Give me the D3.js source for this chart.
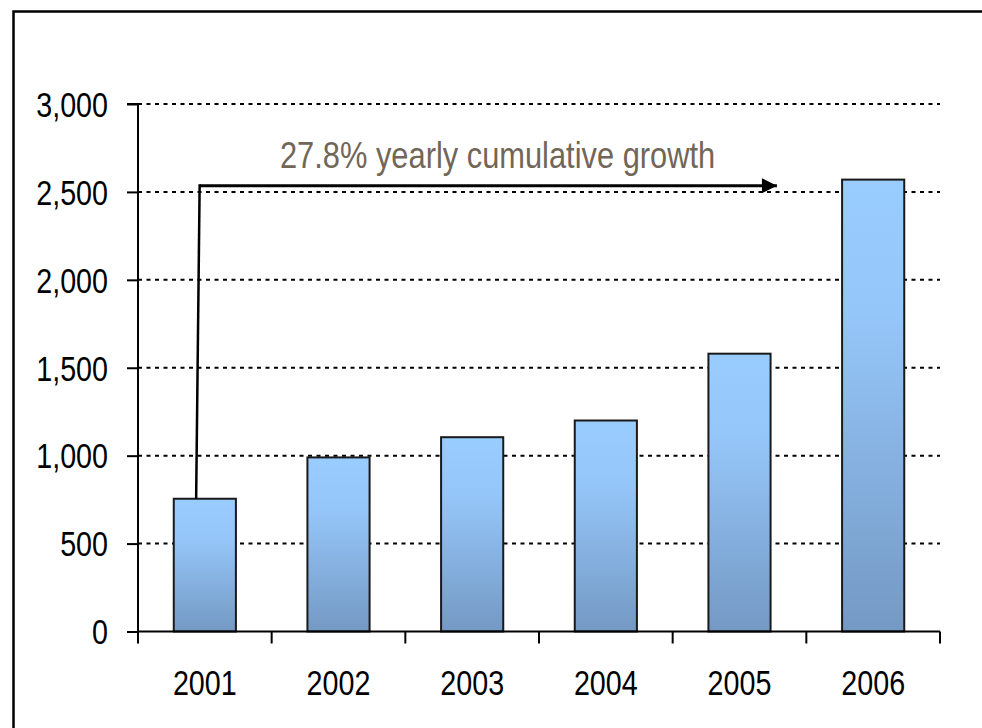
<!DOCTYPE html>
<html><head><meta charset="utf-8">
<script src="https://cdn.jsdelivr.net/npm/d3@7"></script>
<style>html,body{margin:0;padding:0;background:#fff;overflow:hidden}</style>
</head><body>
<svg id="chart" width="982" height="728"></svg>
<script>
// ---- data ----
const years = ["2001","2002","2003","2004","2005","2006"];
const values = [755, 990, 1105, 1200, 1580, 2570];
const yTicks = [0, 500, 1000, 1500, 2000, 2500, 3000];
const annotationText = "27.8% yearly cumulative growth";
const annotationLevel = 2535;

// font detection
function fontAvailable(name){
  const c = document.createElement("canvas").getContext("2d");
  const s = "27.8% yearly cumulative growth 2001";
  c.font = "36px monospace"; const a = c.measureText(s).width;
  c.font = "36px '" + name + "', monospace"; const b = c.measureText(s).width;
  return Math.abs(a-b) > 0.5;
}
const narrow = fontAvailable("Liberation Sans Narrow");
const fam = narrow ? "'Liberation Sans Narrow'" : "'Liberation Sans', Arial, sans-serif";
const sx = narrow ? 1 : 0.82;

const svg = d3.select("#chart");
const W = 982, H = 728;
svg.append("rect").attr("width", W).attr("height", H).attr("fill", "#fff");

// frame
svg.append("rect").attr("x", 13.5).attr("y", 11.5).attr("width", 1000).attr("height", 800)
  .attr("fill", "none").attr("stroke", "#000").attr("stroke-width", 2.5);

const x = d3.scaleBand().domain(years).range([138, 940]).padding(0);
const y = d3.scaleLinear().domain([0, 3000]).range([631.5, 104]);
const barW = x.bandwidth() * 0.465;

const defs = svg.append("defs");
const grad = defs.append("linearGradient").attr("id", "barGrad")
  .attr("x1", 0).attr("y1", 0).attr("x2", 0).attr("y2", 1);
grad.append("stop").attr("offset", "0%").attr("stop-color", "#99CCFF");
grad.append("stop").attr("offset", "30%").attr("stop-color", "#95C6F9");
grad.append("stop").attr("offset", "100%").attr("stop-color", "#7499C4");

// gridlines
svg.append("g").selectAll("line").data(yTicks.filter(d => d > 0)).join("line")
  .attr("x1", 138).attr("x2", 940)
  .attr("y1", d => y(d)).attr("y2", d => y(d))
  .attr("stroke", "#000").attr("stroke-width", 2).attr("stroke-dasharray", "4,4.5");

// bars
svg.append("g").selectAll("rect").data(years).join("rect")
  .attr("x", d => x(d) + (x.bandwidth() - barW) / 2)
  .attr("y", (d, i) => y(values[i]))
  .attr("width", barW)
  .attr("height", (d, i) => y(0) - y(values[i]))
  .attr("fill", "url(#barGrad)")
  .attr("stroke", "#1a1a1a").attr("stroke-width", 2);

// y axis
const yAxis = d3.axisLeft(y).tickValues(yTicks).tickSize(11).tickPadding(19)
  .tickFormat(d3.format(","));
const gy = svg.append("g").attr("transform", "translate(138,0)").call(yAxis);
gy.select(".domain").attr("stroke", "#000").attr("stroke-width", 2).attr("d", `M-11,${y(3000)}H0V${y(0)}`);
gy.selectAll(".tick line").attr("stroke", "#000").attr("stroke-width", 2);
gy.selectAll(".tick text").attr("fill", "#000").style("font-family", fam).style("font-size", "35px")
  .attr("dy", "0.35em")
  .attr("transform", `scale(${sx},1)`)
  .attr("x", -30 / sx);

// x axis
const gx = svg.append("g").attr("transform", `translate(0,${y(0)})`);
gx.append("line").attr("x1", 138).attr("x2", 940).attr("y1", 0).attr("y2", 0)
  .attr("stroke", "#000").attr("stroke-width", 2);
const edges = years.map(d => x(d)).concat([x(years[years.length - 1]) + x.bandwidth()]);
gx.selectAll("line.tk").data(edges).join("line").attr("class", "tk")
  .attr("x1", d => d).attr("x2", d => d).attr("y1", 0).attr("y2", 12)
  .attr("stroke", "#000").attr("stroke-width", 2);
gx.selectAll("text").data(years).join("text")
  .attr("transform", d => `translate(${x(d) + x.bandwidth() / 2},63) scale(${sx},1)`)
  .attr("text-anchor", "middle")
  .style("font-family", fam).style("font-size", "35px").attr("fill", "#000")
  .text(d => d);

// annotation arrow
defs.append("marker").attr("id", "ah").attr("viewBox", "0 0 10 10")
  .attr("refX", 10).attr("refY", 5).attr("markerWidth", 16).attr("markerHeight", 15)
  .attr("markerUnits", "userSpaceOnUse").attr("orient", "auto")
  .append("path").attr("d", "M0,0L10,5L0,10Z").attr("fill", "#000");
const ay = y(annotationLevel);
const x0 = x(years[0]) + x.bandwidth() * 0.45;
svg.append("line").attr("x1", x0 - 2).attr("y1", y(values[0]))
  .attr("x2", x0 + 1.5).attr("y2", ay - 1.5)
  .attr("stroke", "#000").attr("stroke-width", 2.5);
svg.append("line").attr("x1", x0 + 1.5).attr("y1", ay)
  .attr("x2", x(years[4]) + x.bandwidth() * 0.78).attr("y2", ay)
  .attr("stroke", "#000").attr("stroke-width", 3).attr("marker-end", "url(#ah)");
svg.append("text")
  .attr("transform", `translate(${x(years[2]) + x.bandwidth() * 0.69},${ay - 17.5}) scale(${sx},1)`)
  .attr("text-anchor", "middle")
  .style("font-family", fam).style("font-size", "37.6px").attr("fill", "#716657")
  .text(annotationText);
</script>
</body></html>
